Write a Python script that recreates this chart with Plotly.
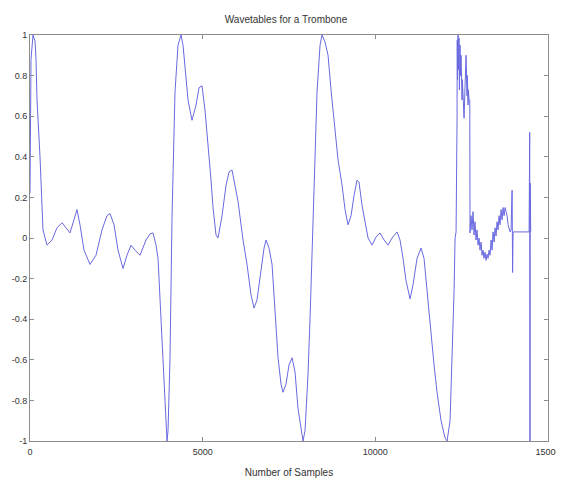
import plotly.graph_objects as go

# Sample index (x) and amplitude (y)
samples = [
    0, 29, 87, 145, 174, 203, 290, 348, 376, 492, 637, 782, 927, 1043, 1158, 1274, 1361,
    1448, 1564, 1738, 1911, 2085, 2230, 2317, 2433, 2549, 2693, 2809, 2925, 3041, 3186,
    3359, 3475, 3562, 3649, 3707, 3765, 3823, 3881, 3939, 3968, 3997, 4054, 4112, 4141,
    4199, 4286, 4373, 4431, 4489, 4576, 4692, 4808, 4894, 4981, 5068, 5155, 5242, 5300,
    5387, 5445, 5561, 5677, 5763, 5850, 5937, 6024, 6169, 6284, 6400, 6487, 6574, 6690,
    6777, 6835, 6922, 7009, 7095, 7182, 7269, 7327, 7414, 7501, 7588, 7675, 7761, 7848,
    7906, 7964, 8051, 8109, 8167, 8254, 8312, 8399, 8457, 8544, 8631, 8717, 8833, 8920,
    9036, 9123, 9210, 9297, 9384, 9471, 9528, 9615, 9702, 9789, 9905, 10020, 10136,
    10252, 10368, 10484, 10629, 10715, 10802, 10889, 11005, 11092, 11208, 11323, 11410,
    11497, 11584, 11700, 11787, 11903, 12019, 12077, 12164, 12222, 12280, 12309, 12338,
    # noisy third wavetable
    12366, 12372, 12380, 12395, 12405, 12424, 12435, 12453, 12465, 12482, 12511, 12520,
    12540, 12569, 12598, 12627, 12656, 12665, 12685, 12695, 12714, 12735, 12742,
    # noisy fourth wavetable
    12771, 12800, 12829, 12858, 12887, 12916, 12945, 12974, 13003, 13032, 13061, 13090,
    13119, 13148, 13177, 13206, 13235, 13264, 13293, 13322, 13351, 13380, 13409, 13438,
    13467, 13496, 13525, 13554, 13583, 13612, 13641, 13670, 13699, 13728, 13757, 13786,
    13815, 13844, 13873, 13902, 13931, 13960, 13975, 13989, 14453, 14470, 14478, 14484,
    14490, 14500,
]

amplitude = [
    0.22, 0.88, 1.0, 0.97, 0.88, 0.68, 0.40, 0.17, 0.04, -0.035, -0.01, 0.05, 0.075, 0.05,
    0.025, 0.09, 0.14, 0.065, -0.06, -0.13, -0.085, 0.04, 0.11, 0.12, 0.065, -0.06, -0.15,
    -0.085, -0.035, -0.06, -0.085, -0.01, 0.02, 0.025, -0.035, -0.1, -0.31, -0.53, -0.76,
    -0.95, -1.0, -0.95, -0.59, 0.1, 0.36, 0.72, 0.95, 1.0, 0.95, 0.84, 0.68, 0.58, 0.655,
    0.74, 0.75, 0.63, 0.47, 0.285, 0.15, 0.015, 0.0, 0.11, 0.26, 0.325, 0.335, 0.26, 0.18,
    -0.01, -0.13, -0.28, -0.345, -0.305, -0.16, -0.05, -0.01, -0.05, -0.13, -0.345, -0.59,
    -0.72, -0.76, -0.72, -0.625, -0.59, -0.66, -0.84, -0.95, -1.0, -0.95, -0.67, -0.40,
    -0.07, 0.44, 0.72, 0.95, 1.0, 0.965, 0.9, 0.73, 0.52, 0.385, 0.26, 0.14, 0.065, 0.11,
    0.21, 0.285, 0.275, 0.16, 0.08, 0.0, -0.035, 0.005, 0.025, -0.01, -0.035, 0.0, 0.03,
    -0.01, -0.1, -0.21, -0.3, -0.23, -0.1, -0.05, -0.1, -0.26, -0.43, -0.625, -0.76, -0.90,
    -0.985, -1.0, -0.9, -0.59, -0.26, 0.0, 0.03,
    # noisy third wavetable
    0.58, 0.975, 0.78, 1.0, 0.83, 0.985, 0.73, 0.95, 0.8, 0.9, 0.68, 0.78, 0.70, 0.59,
    0.75, 0.9, 0.7, 0.8, 0.655, 0.73, 0.68, 0.68, 0.025,
    # noisy fourth wavetable
    0.11, 0.04, 0.13, 0.015, 0.08, -0.01, 0.04, -0.035, 0.0, -0.06, -0.02, -0.085, -0.06,
    -0.1, -0.07, -0.11, -0.08, -0.1, -0.06, -0.085, -0.01, -0.06, 0.03, -0.02, 0.05, 0.01,
    0.08, 0.04, 0.11, 0.065, 0.14, 0.09, 0.15, 0.11, 0.15, 0.13, 0.11, 0.065, 0.04, 0.03,
    0.04, 0.235, -0.17, 0.03, 0.03, 0.52, -1.0, 0.27, -1.0, 0.03,
]

x_ticks = [0, 5000, 10000, 15000]
y_ticks = [-1, -0.8, -0.6, -0.4, -0.2, 0, 0.2, 0.4, 0.6, 0.8, 1]
y_tick_labels = ["-1", "-0.8", "-0.6", "-0.4", "-0.2", "0", "0.2", "0.4", "0.6", "0.8", "1"]

FONT = "Liberation Sans, Arial, sans-serif"

fig = go.Figure()
fig.add_trace(go.Scatter(
    x=samples, y=amplitude, mode="lines",
    line=dict(color="rgb(105,105,225)", width=1),
    showlegend=False,
))

axis_common = dict(
    showgrid=False, zeroline=False, showline=True, linecolor="#8c8c8c", linewidth=1,
    mirror="ticks", ticks="inside", ticklen=4, tickcolor="#8c8c8c", automargin=False,
    tickfont=dict(family=FONT, size=9, color="#333333"),
)

# The page body adds an 8 px offset, so the figure is sized to fit the window.
fig.update_layout(
    width=556, height=475,
    paper_bgcolor="white", plot_bgcolor="white",
    margin=dict(l=22, r=16, t=27, b=42),
    title=dict(text="Wavetables for a Trombone", x=0.5, xanchor="center", y=0.975, yanchor="middle",
               font=dict(family=FONT, size=10, color="#333333")),
    xaxis=dict(range=[0, 15000], tickvals=x_ticks, ticktext=[str(v) for v in x_ticks],
               ticklabelstandoff=2,
               title=dict(text="Number of Samples", standoff=13,
                          font=dict(family=FONT, size=10, color="#333333")),
               **axis_common),
    yaxis=dict(range=[-1, 1], tickvals=y_ticks, ticktext=y_tick_labels, **axis_common),
)

fig.write_html("out.html")
